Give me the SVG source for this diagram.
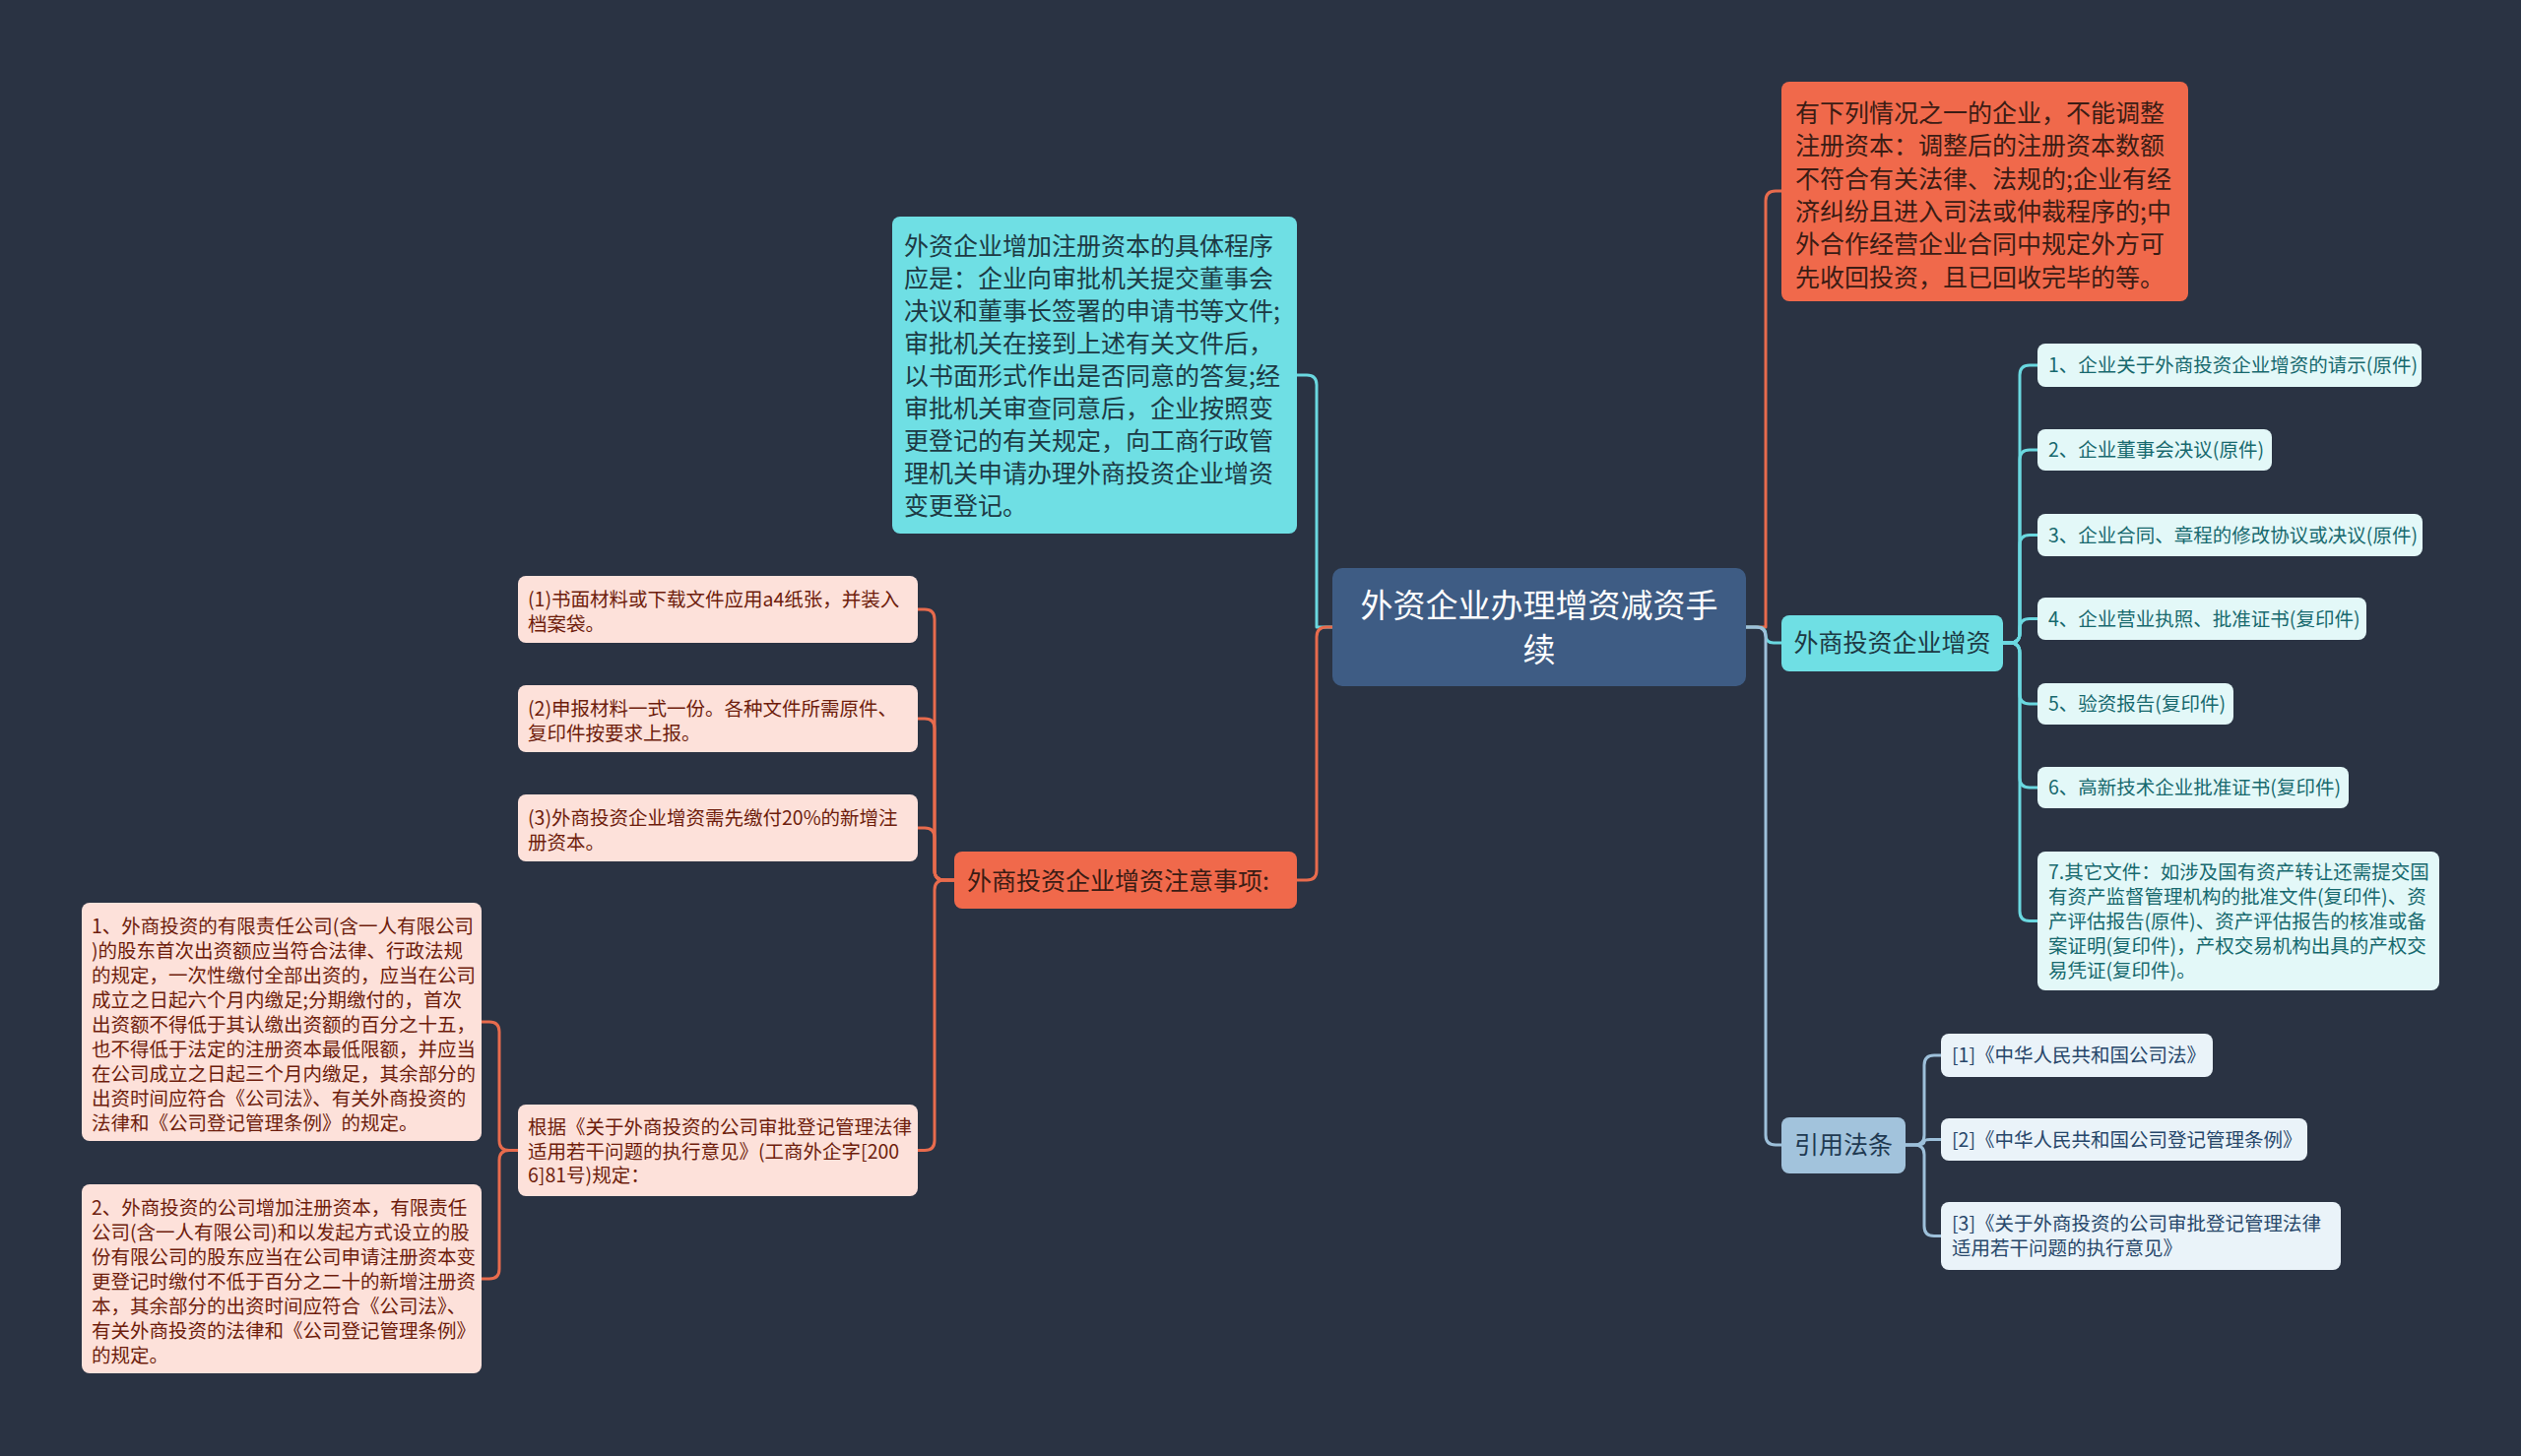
<svg xmlns="http://www.w3.org/2000/svg" width="2560" height="1479" viewBox="0 0 2560 1479">
<style>
text{font-family:"Noto Sans CJK SC","Microsoft YaHei","Noto Sans",sans-serif;}
.conn{fill:none;stroke-width:3;stroke-linecap:round;stroke-linejoin:round;}
.c-or{stroke:#e86b4d;}
.c-cy{stroke:#6ad8e0;}
.c-bl{stroke:#9dc0da;}
.root rect{fill:#3e5c84;}
.root text{fill:#ffffff;font-size:33px;text-anchor:middle;}
.cy rect{fill:#6fdfe4;}
.cy text{fill:#1d3a44;font-size:25px;}
.or rect{fill:#f0694b;}
.or text{fill:#3b1c14;font-size:25px;}
.bl rect{fill:#a2c3dc;}
.bl text{fill:#1f3a52;font-size:25px;}
.lc rect{fill:#e3f8f8;}
.lc text{fill:#17696e;font-size:19.5px;}
.pk rect{fill:#fde1da;}
.pk text{fill:#6e1d0c;font-size:19.5px;}
.lb rect{fill:#eaf3f9;}
.lb text{fill:#27476a;font-size:19.5px;}
</style>
<rect x="0" y="0" width="2560" height="1479" fill="#2a3343"/>

<g id="connectors">
  <!-- left side from root -->
  <path class="conn c-cy" d="M1353,637 H1337 V391 Q1337,381 1327,381 H1316"/>
  <path class="conn c-or" d="M1353,637 H1347 Q1337,637 1337,647 V884 Q1337,894 1327,894 H1317"/>
  <!-- right side from root -->
  <path class="conn c-or" d="M1773,637 H1793 V204 Q1793,194 1803,194 H1809"/>
  <path class="conn c-cy" d="M1773,637 H1785 Q1793,637 1793,645 Q1793,653 1801,653 H1809"/>
  <path class="conn c-bl" d="M1773,637 H1783 Q1793,637 1793,647 V1153 Q1793,1163 1803,1163 H1809"/>
  <!-- 外商投资企业增资 children -->
  <path class="conn c-cy" d="M2034,653 H2041 Q2051,653 2051,643 V381 Q2051,371 2061,371 H2069"/>
  <path class="conn c-cy" d="M2034,653 H2041 Q2051,653 2051,643 V467 Q2051,457 2061,457 H2069"/>
  <path class="conn c-cy" d="M2034,653 H2041 Q2051,653 2051,643 V553.5 Q2051,543.5 2061,543.5 H2069"/>
  <path class="conn c-cy" d="M2034,653 H2041 Q2051,653 2051,643 V638.5 Q2051,628.5 2061,628.5 H2069"/>
  <path class="conn c-cy" d="M2034,653 H2041 Q2051,653 2051,663 V705 Q2051,715 2061,715 H2069"/>
  <path class="conn c-cy" d="M2034,653 H2041 Q2051,653 2051,663 V790 Q2051,800 2061,800 H2069"/>
  <path class="conn c-cy" d="M2034,653 H2041 Q2051,653 2051,663 V925.5 Q2051,935.5 2061,935.5 H2069"/>
  <!-- 引用法条 children -->
  <path class="conn c-bl" d="M1935,1163 H1944 Q1954,1163 1954,1153 V1082 Q1954,1072 1964,1072 H1971"/>
  <path class="conn c-bl" d="M1935,1163 H1944 Q1954,1163 1954,1160 Q1954,1157.5 1960,1157.5 H1971"/>
  <path class="conn c-bl" d="M1935,1163 H1944 Q1954,1163 1954,1173 V1245.5 Q1954,1255.5 1964,1255.5 H1971"/>
  <!-- 注意事项 children -->
  <path class="conn c-or" d="M969,894 H959 Q949,894 949,884 V629 Q949,619 939,619 H932"/>
  <path class="conn c-or" d="M969,894 H959 Q949,894 949,884 V740 Q949,730 939,730 H932"/>
  <path class="conn c-or" d="M969,894 H959 Q949,894 949,884 V851 Q949,841 939,841 H932"/>
  <path class="conn c-or" d="M969,894 H959 Q949,894 949,904 V1158.5 Q949,1168.5 939,1168.5 H932"/>
  <!-- 根据 children -->
  <path class="conn c-or" d="M526,1168.5 H517 Q507,1168.5 507,1158.5 V1048 Q507,1038 497,1038 H489"/>
  <path class="conn c-or" d="M526,1168.5 H517 Q507,1168.5 507,1178.5 V1289 Q507,1299 497,1299 H489"/>
</g>

<g id="node-root" class="root">
  <rect x="1353" y="577" width="420" height="120" rx="10"/>
  <text><tspan x="1563" y="627">外资企业办理增资减资手</tspan><tspan x="1563" y="672">续</tspan></text>
</g>

<g id="node-procedure" class="cy">
  <rect x="906" y="220" width="411" height="322" rx="8"/>
  <text>
    <tspan x="918" y="259">外资企业增加注册资本的具体程序</tspan>
    <tspan x="918" y="292">应是：企业向审批机关提交董事会</tspan>
    <tspan x="918" y="325">决议和董事长签署的申请书等文件;</tspan>
    <tspan x="918" y="358">审批机关在接到上述有关文件后，</tspan>
    <tspan x="918" y="391">以书面形式作出是否同意的答复;经</tspan>
    <tspan x="918" y="424">审批机关审查同意后，企业按照变</tspan>
    <tspan x="918" y="457">更登记的有关规定，向工商行政管</tspan>
    <tspan x="918" y="490">理机关申请办理外商投资企业增资</tspan>
    <tspan x="918" y="523">变更登记。</tspan>
  </text>
</g>

<g id="node-notice" class="or">
  <rect x="969" y="865" width="348" height="58" rx="8"/>
  <text x="982" y="904">外商投资企业增资注意事项:</text>
</g>

<g id="node-n1" class="pk">
  <rect x="526" y="585" width="406" height="68" rx="8"/>
  <text><tspan x="536" y="616">(1)书面材料或下载文件应用a4纸张，并装入</tspan><tspan x="536" y="641">档案袋。</tspan></text>
</g>
<g id="node-n2" class="pk">
  <rect x="526" y="696" width="406" height="68" rx="8"/>
  <text><tspan x="536" y="727">(2)申报材料一式一份。各种文件所需原件、</tspan><tspan x="536" y="752">复印件按要求上报。</tspan></text>
</g>
<g id="node-n3" class="pk">
  <rect x="526" y="807" width="406" height="68" rx="8"/>
  <text><tspan x="536" y="838">(3)外商投资企业增资需先缴付20%的新增注</tspan><tspan x="536" y="863">册资本。</tspan></text>
</g>
<g id="node-basis" class="pk">
  <rect x="526" y="1122" width="406" height="93" rx="8"/>
  <text><tspan x="536" y="1152">根据《关于外商投资的公司审批登记管理法律</tspan><tspan x="536" y="1177">适用若干问题的执行意见》(工商外企字[200</tspan><tspan x="536" y="1201">6]81号)规定：</tspan></text>
</g>
<g id="node-basis-1" class="pk">
  <rect x="83" y="917" width="406" height="242" rx="8"/>
  <text>
    <tspan x="93" y="948">1、外商投资的有限责任公司(含一人有限公司</tspan>
    <tspan x="93" y="973">)的股东首次出资额应当符合法律、行政法规</tspan>
    <tspan x="93" y="998">的规定，一次性缴付全部出资的，应当在公司</tspan>
    <tspan x="93" y="1023">成立之日起六个月内缴足;分期缴付的，首次</tspan>
    <tspan x="93" y="1048">出资额不得低于其认缴出资额的百分之十五，</tspan>
    <tspan x="93" y="1073">也不得低于法定的注册资本最低限额，并应当</tspan>
    <tspan x="93" y="1098">在公司成立之日起三个月内缴足，其余部分的</tspan>
    <tspan x="93" y="1123">出资时间应符合《公司法》、有关外商投资的</tspan>
    <tspan x="93" y="1148">法律和《公司登记管理条例》的规定。</tspan>
  </text>
</g>
<g id="node-basis-2" class="pk">
  <rect x="83" y="1203" width="406" height="192" rx="8"/>
  <text>
    <tspan x="93" y="1234">2、外商投资的公司增加注册资本，有限责任</tspan>
    <tspan x="93" y="1259">公司(含一人有限公司)和以发起方式设立的股</tspan>
    <tspan x="93" y="1284">份有限公司的股东应当在公司申请注册资本变</tspan>
    <tspan x="93" y="1309">更登记时缴付不低于百分之二十的新增注册资</tspan>
    <tspan x="93" y="1334">本，其余部分的出资时间应符合《公司法》、</tspan>
    <tspan x="93" y="1359">有关外商投资的法律和《公司登记管理条例》</tspan>
    <tspan x="93" y="1384">的规定。</tspan>
  </text>
</g>

<g id="node-restrict" class="or">
  <rect x="1809" y="83" width="413" height="223" rx="8"/>
  <text>
    <tspan x="1823" y="124">有下列情况之一的企业，不能调整</tspan>
    <tspan x="1823" y="157">注册资本：调整后的注册资本数额</tspan>
    <tspan x="1823" y="191">不符合有关法律、法规的;企业有经</tspan>
    <tspan x="1823" y="224">济纠纷且进入司法或仲裁程序的;中</tspan>
    <tspan x="1823" y="257">外合作经营企业合同中规定外方可</tspan>
    <tspan x="1823" y="291">先收回投资，且已回收完毕的等。</tspan>
  </text>
</g>

<g id="node-increase" class="cy">
  <rect x="1809" y="625" width="225" height="57" rx="8"/>
  <text x="1921.5" y="662" text-anchor="middle">外商投资企业增资</text>
</g>

<g id="node-doc1" class="lc">
  <rect x="2069" y="349" width="390" height="44" rx="8"/>
  <text x="2080" y="378">1、企业关于外商投资企业增资的请示(原件)</text>
</g>
<g id="node-doc2" class="lc">
  <rect x="2069" y="436" width="238" height="42" rx="8"/>
  <text x="2080" y="464">2、企业董事会决议(原件)</text>
</g>
<g id="node-doc3" class="lc">
  <rect x="2069" y="522" width="391" height="43" rx="8"/>
  <text x="2080" y="550.5">3、企业合同、章程的修改协议或决议(原件)</text>
</g>
<g id="node-doc4" class="lc">
  <rect x="2069" y="607" width="334" height="43" rx="8"/>
  <text x="2080" y="635.5">4、企业营业执照、批准证书(复印件)</text>
</g>
<g id="node-doc5" class="lc">
  <rect x="2069" y="694" width="199" height="42" rx="8"/>
  <text x="2080" y="722">5、验资报告(复印件)</text>
</g>
<g id="node-doc6" class="lc">
  <rect x="2069" y="779" width="316" height="42" rx="8"/>
  <text x="2080" y="807">6、高新技术企业批准证书(复印件)</text>
</g>
<g id="node-doc7" class="lc">
  <rect x="2069" y="865" width="408" height="141" rx="8"/>
  <text>
    <tspan x="2080" y="893">7.其它文件：如涉及国有资产转让还需提交国</tspan>
    <tspan x="2080" y="918">有资产监督管理机构的批准文件(复印件)、资</tspan>
    <tspan x="2080" y="943">产评估报告(原件)、资产评估报告的核准或备</tspan>
    <tspan x="2080" y="968">案证明(复印件)，产权交易机构出具的产权交</tspan>
    <tspan x="2080" y="993">易凭证(复印件)。</tspan>
  </text>
</g>

<g id="node-laws" class="bl">
  <rect x="1809" y="1135" width="126" height="57" rx="8"/>
  <text x="1872" y="1172" text-anchor="middle">引用法条</text>
</g>
<g id="node-law1" class="lb">
  <rect x="1971" y="1050" width="276" height="44" rx="8"/>
  <text x="1982" y="1079">[1]《中华人民共和国公司法》</text>
</g>
<g id="node-law2" class="lb">
  <rect x="1971" y="1136" width="372" height="43" rx="8"/>
  <text x="1982" y="1164.5">[2]《中华人民共和国公司登记管理条例》</text>
</g>
<g id="node-law3" class="lb">
  <rect x="1971" y="1221" width="406" height="69" rx="8"/>
  <text><tspan x="1982" y="1250">[3]《关于外商投资的公司审批登记管理法律</tspan><tspan x="1982" y="1275">适用若干问题的执行意见》</tspan></text>
</g>
</svg>
